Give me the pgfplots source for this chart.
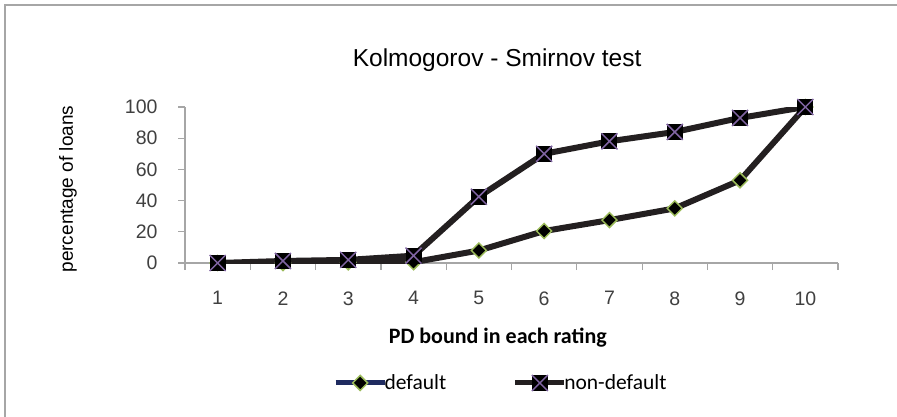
\documentclass[border=0pt]{standalone}
\usepackage{fontspec}
\setmainfont{Liberation Sans}
\newfontfamily\carlito{Carlito}
\usepackage{pgfplots}
\pgfplotsset{compat=1.18}
\definecolor{lineblack}{HTML}{231F20}
\definecolor{mkgreen}{HTML}{9BBB59}
\definecolor{mkpurple}{HTML}{8064A2}
\definecolor{navyl}{HTML}{1F2B60}
\definecolor{axgray}{HTML}{A6A6A6}
\pgfdeclareplotmark{sqx}{%
  \pgfpathrectangle{\pgfpoint{-\pgfplotmarksize}{-\pgfplotmarksize}}{\pgfpoint{2\pgfplotmarksize}{2\pgfplotmarksize}}%
  \pgfusepath{fill}%
  \pgfpathmoveto{\pgfpoint{-\pgfplotmarksize}{-\pgfplotmarksize}}%
  \pgfpathlineto{\pgfpoint{\pgfplotmarksize}{\pgfplotmarksize}}%
  \pgfpathmoveto{\pgfpoint{-\pgfplotmarksize}{\pgfplotmarksize}}%
  \pgfpathlineto{\pgfpoint{\pgfplotmarksize}{-\pgfplotmarksize}}%
  \pgfusepath{stroke}%
}
\begin{document}
\begin{tikzpicture}
\useasboundingbox (0,0) rectangle (897bp,-417bp);
\draw[axgray, line width=2bp] (4.5bp,-420bp) -- (4.5bp,-5bp) -- (900bp,-5bp);
\begin{axis}[
  at={(185bp,-263bp)}, anchor=south west,
  scale only axis, width=653bp, height=156bp,
  xmin=0.5, xmax=10.5, ymin=0, ymax=100,
  axis x line*=bottom, axis y line*=left,
  axis line style={axgray, line width=1.2bp, -},
  tick align=outside, major tick length=7bp,
  tick style={axgray, line width=1.2bp},
  xtick={0.5,1.5,2.5,3.5,4.5,5.5,6.5,7.5,8.5,9.5,10.5},
  xticklabels={1,2,3,4,5,6,7,8,9,10,{}},
  xticklabel style={xshift=32.65bp, yshift=-18bp, text=black!75},
  ytick={0,20,40,60,80,100},
  yticklabel style={xshift=-17bp, text=black!75},
  /pgf/number format/assume math mode=true,
  ticklabel style={font=\fontsize{19.5bp}{21bp}\selectfont},
  title={Kolmogorov - Smirnov test},
  title style={at={(axis description cs:0.478,1.262)}, anchor=center, font=\fontsize{24.5bp}{28bp}\selectfont},
  xlabel={\textbf{PD bound in each rating}},
  xlabel style={at={(axis description cs:0.479,-0.48)}, anchor=center, font=\carlito\fontsize{22bp}{26bp}\selectfont},
  ylabel={percentage of loans},
  ylabel style={at={(axis description cs:-0.1792,0.474)}, anchor=center, font=\fontsize{19bp}{21bp}\selectfont},
  legend columns=2,
  legend style={draw=none, fill=none, at={(axis description cs:0.2266,-0.769)}, anchor=west,
    inner sep=0pt, font=\carlito\fontsize{21.5bp}{24bp}\selectfont,
    nodes={inner xsep=1.5bp},
    /tikz/every odd column/.append style={column sep=-4bp},
    /tikz/every even column/.append style={column sep=65bp}},
  legend cell align=left,
]
\addplot[lineblack, line width=6bp, mark=square*, mark size=5.3bp,
  mark options={rotate=45, fill=black, draw=mkgreen, line width=1.5bp},
  legend image code/.code={\draw[line width=5bp, color=navyl, mark repeat=2, mark phase=2] plot coordinates {(0bp,0bp) (24.5bp,0bp) (49bp,0bp)};}]
  coordinates {(1,0) (2,0) (3,0.5) (4,0.5) (5,8) (6,20.5) (7,27.5) (8,35) (9,53) (10,100)};
\addlegendentry{default}
\addplot[lineblack, line width=6bp, mark=sqx, mark size=8bp,
  mark options={fill=black, draw=mkpurple, line width=1.5bp},
  legend image code/.code={\draw[line width=5bp, color=lineblack, mark repeat=2, mark phase=2] plot coordinates {(0bp,0bp) (24.5bp,0bp) (49bp,0bp)};}]
  coordinates {(1,0) (2,1.3) (3,2) (4,4.7) (5,42.5) (6,70) (7,78) (8,84) (9,93) (10,100)};
\addlegendentry{non-default}
\end{axis}
\end{tikzpicture}
\end{document}
